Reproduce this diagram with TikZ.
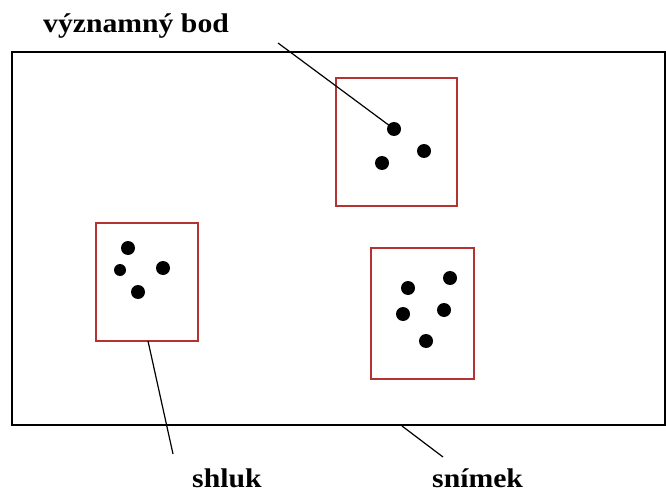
\documentclass[tikz,border=0pt]{standalone}
\usepackage{fontspec}
\setmainfont{Liberation Serif}
\definecolor{boxred}{RGB}{180,50,50}
\tikzset{
  frame/.style={draw=black, line width=1.8pt},
  cluster/.style={draw=boxred, line width=1.4pt},
  pt/.style={circle, fill=black, inner sep=0pt, minimum size=14pt},
  ptsmall/.style={circle, fill=black, inner sep=0pt, minimum size=12pt},
  leader/.style={draw=black, line width=1.2pt},
  lbl/.style={font=\bfseries\fontsize{27}{32}\selectfont, inner sep=0pt, xscale=1.1, transform shape, anchor=base west}
}
\begin{document}
\begin{tikzpicture}[x=1pt,y=1pt]
\useasboundingbox[fill=white] (0,0) rectangle (666,-492);
% outer frame
\draw[frame] (12,-52) rectangle (665,-425);
% cluster boxes
\draw[cluster] (336,-78) rectangle (457,-206);
\draw[cluster] (96,-223) rectangle (198,-341);
\draw[cluster] (371,-248) rectangle (474,-379);
% top cluster points
\node[pt] (a1) at (394,-129) {};
\node[pt] (a2) at (424,-151) {};
\node[pt] (a3) at (382,-163) {};
% left cluster points
\node[pt] (b1) at (128,-248) {};
\node[ptsmall] (b2) at (120,-270) {};
\node[pt] (b3) at (163,-268) {};
\node[pt] (b4) at (138,-292) {};
% right cluster points
\node[pt] (c1) at (450,-278) {};
\node[pt] (c2) at (408,-288) {};
\node[pt] (c3) at (403,-314) {};
\node[pt] (c4) at (444,-310) {};
\node[pt] (c5) at (426,-341) {};
% labels
\node[lbl] (lbod) at (43,-33) {významný bod};
\node[lbl] (lshluk) at (192,-487) {shluk};
\node[lbl] (lsnimek) at (432,-487) {snímek};
% leader lines
\coordinate (p1) at (278,-43);
\coordinate (p2s) at (148,-341);
\coordinate (p2e) at (173,-454);
\coordinate (p3s) at (402,-426);
\coordinate (p3e) at (443,-457);
\draw[leader] (p1) -- (a1.center);
\draw[leader] (p2s) -- (p2e);
\draw[leader] (p3s) -- (p3e);
\end{tikzpicture}
\end{document}
